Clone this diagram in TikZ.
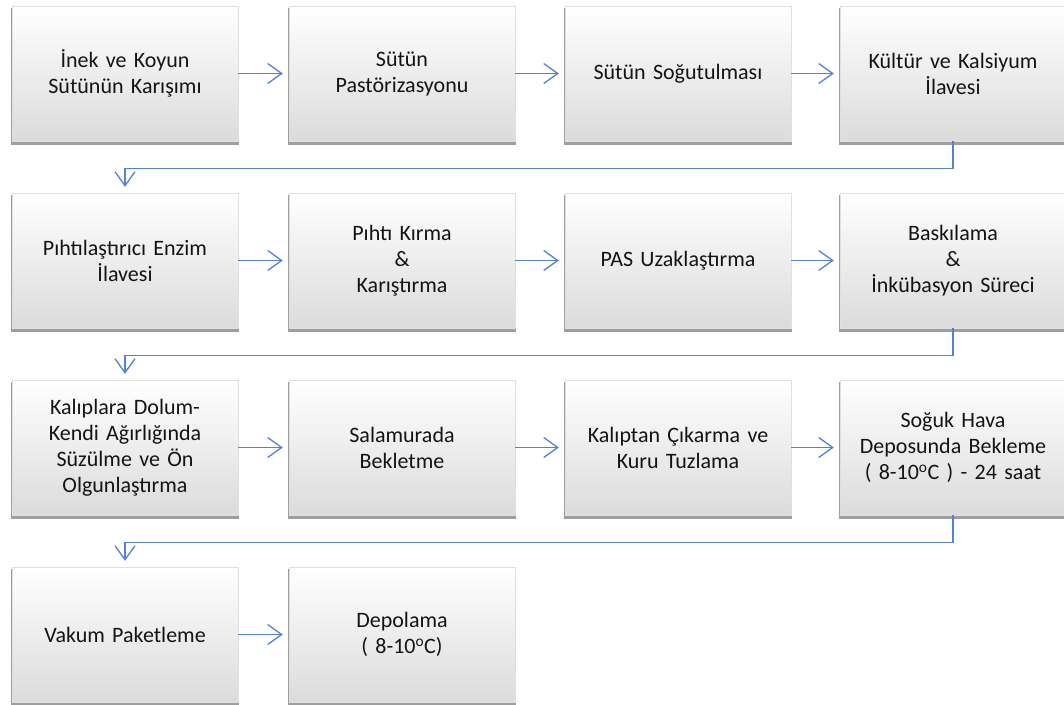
\documentclass[tikz,border=0pt]{standalone}
\usepackage{fontspec}
\setmainfont{Carlito}
\usetikzlibrary{arrows.meta,shadows}
\definecolor{flowblue}{RGB}{84,130,210}
\tikzset{
  stepbox/.style={minimum width=226pt,minimum height=135pt,text width=215pt,align=center,
    top color=white,bottom color=black!14,draw=black!12,line width=0.4pt,
    drop shadow={shadow xshift=0pt,shadow yshift=-3pt,shadow scale=1.01,fill=black,opacity=0.38},
    font=\fontsize{22}{26}\selectfont,text=black!92},
  flow/.style={draw=flowblue,line width=1.3pt,shorten >=6pt,
    -{Straight Barb[length=14pt,width=20pt,line width=1.3pt]}}
}
\begin{document}
\begin{tikzpicture}[x=1pt,y=-1pt]
    \useasboundingbox (0,0) rectangle (1064,704);

    % First row
    \node[stepbox] (b1) at (125,73.5) {İnek ve Koyun\\Sütünün Karışımı};
    \node[stepbox] (b2) at (402,73.5) {Sütün\\Pastörizasyonu};
    \node[stepbox] (b3) at (678,73.5) {Sütün Soğutulması};
    \node[stepbox] (b4) at (953,73.5) {Kültür ve Kalsiyum\\İlavesi};

    % Second row
    \node[stepbox] (b5) at (125,260.5) {Pıhtılaştırıcı Enzim\\İlavesi};
    \node[stepbox] (b6) at (402,260.5) {Pıhtı Kırma\\\&\\Karıştırma};
    \node[stepbox] (b7) at (678,260.5) {PAS Uzaklaştırma};
    \node[stepbox] (b8) at (953,260.5) {Baskılama\\\&\\İnkübasyon Süreci};

    % Third row
    \node[stepbox] (b9) at (125,447.5) {Kalıplara Dolum-\\Kendi Ağırlığında\\Süzülme ve Ön\\Olgunlaştırma};
    \node[stepbox] (b10) at (402,447.5) {Salamurada\\Bekletme};
    \node[stepbox] (b11) at (678,447.5) {Kalıptan Çıkarma ve\\Kuru Tuzlama};
    \node[stepbox] (b12) at (953,447.5) {Soğuk Hava\\Deposunda Bekleme\\( 8-10\textsuperscript{o}C ) - 24 saat};

    % Fourth row
    \node[stepbox] (b13) at (125,634.5) {Vakum Paketleme};
    \node[stepbox] (b14) at (402,634.5) {Depolama\\( 8-10\textsuperscript{o}C)};

    % Arrows along the rows
    \draw[flow] (b1.east) -- (b2.west);
    \draw[flow] (b2.east) -- (b3.west);
    \draw[flow] (b3.east) -- (b4.west);
    \draw[flow] (b5.east) -- (b6.west);
    \draw[flow] (b6.east) -- (b7.west);
    \draw[flow] (b7.east) -- (b8.west);
    \draw[flow] (b9.east) -- (b10.west);
    \draw[flow] (b10.east) -- (b11.west);
    \draw[flow] (b11.east) -- (b12.west);
    \draw[flow] (b13.east) -- (b14.west);

    % Arrows between the rows
    \draw[flow] (b4.south) -- ++(0,27) -| (b5.north);
    \draw[flow] (b8.south) -- ++(0,27) -| (b9.north);
    \draw[flow] (b12.south) -- ++(0,27) -| (b13.north);

\end{tikzpicture}
\end{document}
